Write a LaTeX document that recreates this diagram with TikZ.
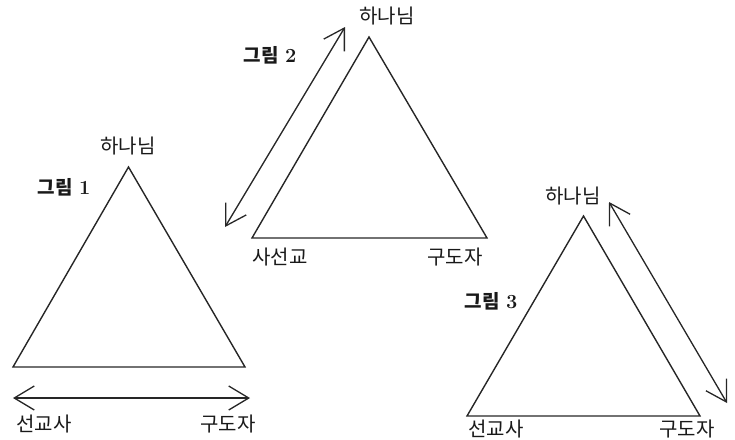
\documentclass[tikz,border=0pt]{standalone}
\usepackage{fontspec}
\newfontfamily\kr{Noto Sans CJK KR}
\usetikzlibrary{arrows.meta}
\begin{document}
\begin{tikzpicture}[x=1pt,y=-1pt,
  tri/.style={draw=black!85,line width=1.4pt,line join=miter},
  dbl/.style={draw=black!85,line width=1.3pt,{Straight Barb[length=20pt,width=24pt,line width=1.3pt]}-{Straight Barb[length=20pt,width=24pt,line width=1.3pt]}},
  lbl/.style={inner sep=0pt,font=\kr\fontsize{20}{22}\selectfont,text=black!90},
  fig/.style={inner sep=0pt,font=\kr\bfseries\fontsize{19}{22}\selectfont,text=black!90}]
\useasboundingbox (0,0) rectangle (735,439);
\clip (0,0) rectangle (735,439);
% Figure 1
\coordinate (a1) at (128.5,167);
\coordinate (b1) at (13,367);
\coordinate (c1) at (245,367);
\draw[tri] (a1) -- (b1) -- (c1) -- cycle;
\coordinate (p1) at (13,398);
\coordinate (q1) at (250,398);
\draw[dbl] (p1) -- (q1);
\node[lbl] (g1) at (128,146) {하나님};
\node[fig] (f1) at (64,187) {그림 \hspace{2pt}{\rmfamily\fontsize{20}{22}\selectfont 1}};
\node[lbl] (s1) at (44,424) {선교사};
\node[lbl] (k1) at (228,424) {구도자};
% Figure 2
\coordinate (a2) at (369,37);
\coordinate (b2) at (252,238);
\coordinate (c2) at (487,238);
\draw[tri] (a2) -- (b2) -- (c2) -- cycle;
\coordinate (p2) at (345,27);
\coordinate (q2) at (225,227);
\draw[dbl] (p2) -- (q2);
\node[lbl] (g2) at (387,16) {하나님};
\node[fig] (f2) at (270,55) {그림 \hspace{2pt}{\rmfamily\fontsize{20}{22}\selectfont 2}};
\node[lbl] (s2) at (280,257) {사선교};
\node[lbl] (k2) at (455,257) {구도자};
% Figure 3
\coordinate (a3) at (583.5,216);
\coordinate (b3) at (467,416);
\coordinate (c3) at (700,416);
\draw[tri] (a3) -- (b3) -- (c3) -- cycle;
\coordinate (p3) at (609,202);
\coordinate (q3) at (727,403);
\draw[dbl] (p3) -- (q3);
\node[lbl] (g3) at (573,196) {하나님};
\node[fig] (f3) at (491,301) {그림 \hspace{2pt}{\rmfamily\fontsize{20}{22}\selectfont 3}};
\node[lbl] (s3) at (496,429.5) {선교사};
\node[lbl] (k3) at (687,429.5) {구도자};
\end{tikzpicture}
\end{document}
